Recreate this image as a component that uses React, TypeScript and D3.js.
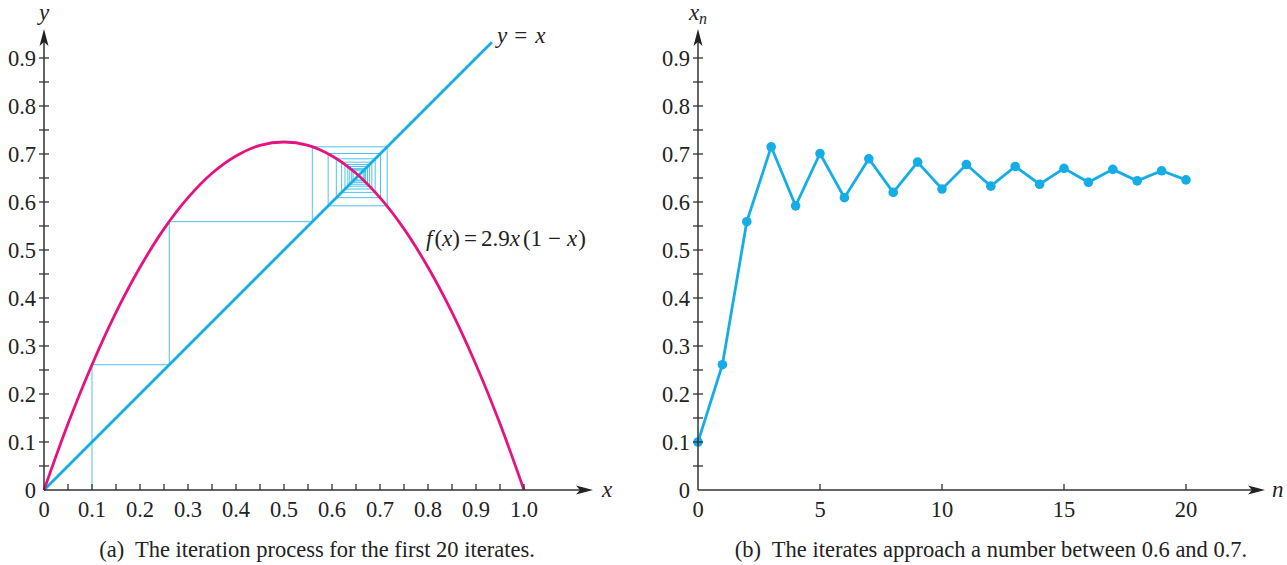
import React from 'react';
import * as d3 from 'd3';

// iterates x_n of f(x) = 2.9x(1 - x)
const iterates = [0.1, 0.261, 0.559, 0.715, 0.592, 0.701, 0.609, 0.690, 0.620, 0.683,
  0.627, 0.678, 0.633, 0.674, 0.637, 0.670, 0.641, 0.668, 0.644, 0.665, 0.646];

// points on the parabola
const curveX = [0, 0.05, 0.1, 0.15, 0.2, 0.25, 0.3, 0.35, 0.4, 0.45, 0.5,
  0.55, 0.6, 0.65, 0.7, 0.75, 0.8, 0.85, 0.9, 0.95, 1.0];
const curveY = [0, 0.138, 0.261, 0.370, 0.464, 0.544, 0.609, 0.660, 0.696, 0.718, 0.725,
  0.718, 0.696, 0.660, 0.609, 0.544, 0.464, 0.370, 0.261, 0.138, 0];

const diagEnd = 0.933;
const yTickLabels = ['0', '0.1', '0.2', '0.3', '0.4', '0.5', '0.6', '0.7', '0.8', '0.9'];
const xTickLabelsA = ['0', '0.1', '0.2', '0.3', '0.4', '0.5', '0.6', '0.7', '0.8', '0.9', '1.0'];
const nTicks = [0, 5, 10, 15, 20];

const BLUE = '#15ade6';
const THIN = '#4fc3ee';
const MAGENTA = '#e5127f';
const AXIS = '#333';
const FONT = '"Liberation Serif", "DejaVu Serif", serif';

const y = d3.scaleLinear().domain([0, 1]).range([490, 10]);
const xA = d3.scaleLinear().domain([0, 1]).range([44, 524]);
const xB = d3.scaleLinear().domain([0, 20]).range([698, 1186]);

const halfTicks = d3.range(1, 19).map(i => i * 0.05);
const halfTicksX = d3.range(1, 21).map(i => i * 0.05);

const arrowRight = (tx: number, ty: number) =>
  `M${tx},${ty} L${tx - 17},${ty - 4.5} L${tx - 13},${ty} L${tx - 17},${ty + 4.5} Z`;
const arrowUp = (tx: number, ty: number) =>
  `M${tx},${ty} L${tx - 4.5},${ty + 17} L${tx},${ty + 13} L${tx + 4.5},${ty + 17} Z`;

const YAxis = ({ x0 }: { x0: number }) => (
  <g>
    <line x1={x0} y1={y(0)} x2={x0} y2={33} stroke={AXIS} strokeWidth={1.5} />
    <path d={arrowUp(x0, 29)} fill="#222" />
    {halfTicks.map(t => (
      <line key={t} x1={x0 - 5} x2={x0 + 5} y1={y(t)} y2={y(t)} stroke={AXIS} strokeWidth={1.3} />
    ))}
    {yTickLabels.map((l, i) => (
      <text key={l} x={x0 - 8} y={y(i / 10)} dy="0.35em" textAnchor="end" fontSize={22.5}
        fill="#222">{l}</text>
    ))}
  </g>
);

const App = () => {
  const parabola = d3.line<number>()
    .x((_, i) => xA(curveX[i]))
    .y(d => y(d))
    .curve(d3.curveCatmullRom)(curveY) as string;

  // cobweb path from the iterates
  const web = d3.path();
  web.moveTo(xA(iterates[0]), y(0));
  for (let i = 0; i < iterates.length - 1; i++) {
    web.lineTo(xA(iterates[i]), y(iterates[i + 1]));
    web.lineTo(xA(iterates[i + 1]), y(iterates[i + 1]));
  }

  const series = d3.line<number>()
    .x((_, i) => xB(i))
    .y(d => y(d))(iterates) as string;

  return (
    <svg width={1287} height={565} style={{ position: 'absolute', left: 0, top: 0, background: '#fff' }}
      fontFamily={FONT}>
      {/* (a) cobweb */}
      <path d={web.toString()} fill="none" stroke={THIN} strokeWidth={1} />
      <line x1={xA(0)} y1={y(0)} x2={xA(diagEnd)} y2={y(diagEnd)} stroke={BLUE} strokeWidth={2.8} />
      <path d={parabola} fill="none" stroke={MAGENTA} strokeWidth={2.8} />

      <line x1={xA(0)} y1={y(0)} x2={588} y2={y(0)} stroke={AXIS} strokeWidth={1.5} />
      <path d={arrowRight(593, y(0))} fill="#222" />
      {halfTicksX.map(t => (
        <line key={t} x1={xA(t)} x2={xA(t)} y1={y(0) - 6} y2={y(0)} stroke={AXIS} strokeWidth={1.3} />
      ))}
      {xTickLabelsA.map((l, i) => (
        <text key={l} x={xA(i / 10)} y={517} textAnchor="middle" fontSize={22.5} fill="#222">{l}</text>
      ))}
      <YAxis x0={xA(0)} />
      <text x={44} y={20} textAnchor="middle" fontSize={23} fontStyle="italic" fill="#222">y</text>
      <text x={602} y={497} fontSize={23} fontStyle="italic" fill="#222">x</text>
      <text x={497} y={43} fontSize={23} fill="#222">
        <tspan fontStyle="italic">y</tspan><tspan dx={7}>=</tspan><tspan dx={8} fontStyle="italic">x</tspan>
      </text>
      <text x={426} y={246} fontSize={23} fill="#222">
        <tspan fontStyle="italic">f</tspan><tspan dx={2}>(</tspan><tspan fontStyle="italic">x</tspan>)<tspan
          dx={4}>=</tspan><tspan dx={4}>2.9</tspan><tspan fontStyle="italic">x</tspan><tspan
          dx={3}>(1</tspan><tspan dx={6}>−</tspan><tspan dx={6} fontStyle="italic">x</tspan><tspan dx={1}>)</tspan>
      </text>
      <text x={317} y={557} textAnchor="middle" fontSize={22.5} fill="#222" xmlSpace="preserve">
        (a)  The iteration process for the first 20 iterates.
      </text>

      {/* (b) iterates */}
      <path d={series} fill="none" stroke={BLUE} strokeWidth={2.8} />
      {iterates.map((v, i) => (
        <circle key={i} cx={xB(i)} cy={y(v)} r={4.8} fill={BLUE} />
      ))}
      <line x1={xB(0)} y1={y(0)} x2={1260} y2={y(0)} stroke={AXIS} strokeWidth={1.5} />
      <path d={arrowRight(1265, y(0))} fill="#222" />
      {nTicks.slice(1).map(t => (
        <line key={t} x1={xB(t)} x2={xB(t)} y1={y(0) - 6} y2={y(0)} stroke={AXIS} strokeWidth={1.3} />
      ))}
      {nTicks.map(t => (
        <text key={t} x={xB(t)} y={517} textAnchor="middle" fontSize={22.5} fill="#222">{t}</text>
      ))}
      <YAxis x0={xB(0)} />
      <text x={698} y={20} textAnchor="middle" fontSize={23} fontStyle="italic" fill="#222">
        x<tspan fontSize={16} dy={4}>n</tspan>
      </text>
      <text x={1272} y={497} fontSize={23} fontStyle="italic" fill="#222">n</text>
      <text x={991} y={557} textAnchor="middle" fontSize={22.5} fill="#222" xmlSpace="preserve">
        (b)  The iterates approach a number between 0.6 and 0.7.
      </text>
    </svg>
  );
};

export default App;
